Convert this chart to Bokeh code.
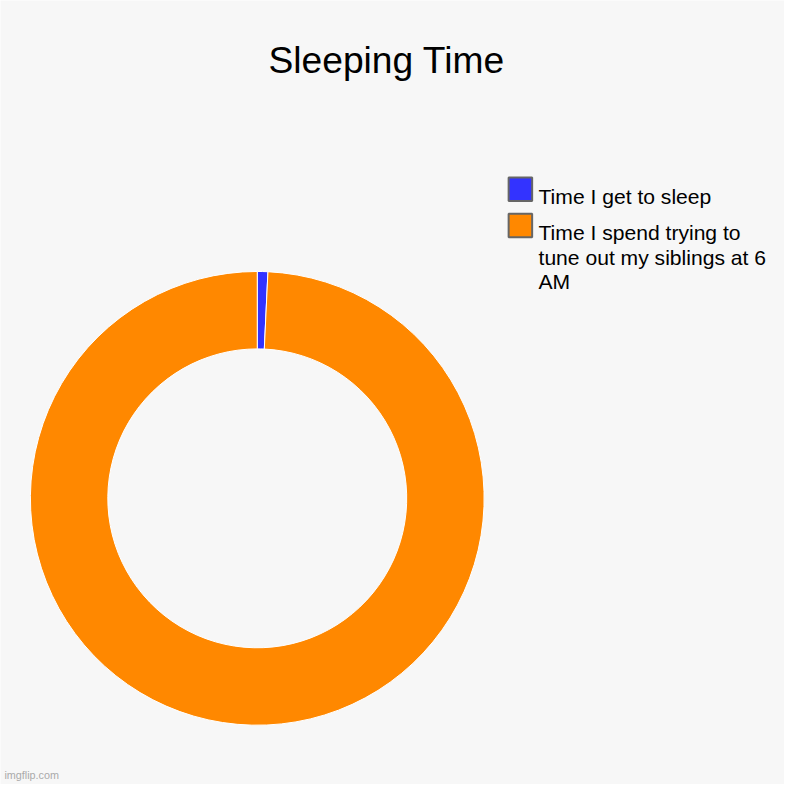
import math
import textwrap
from bokeh.plotting import figure
from bokeh.models import Range1d, ColumnDataSource
from bokeh.core.properties import value
from bokeh.embed import file_html
from bokeh.resources import INLINE

title = "Sleeping Time"
categories = ["Time I get to sleep", "Time I spend trying to tune out my siblings at 6 AM"]
values = [0.75, 99.25]
colors = ["#3333ff", "#ff8800"]
watermark = "imgflip.com"

W = H = 784
S = W / 800.0
BG = "#f7f7f7"
FONT = value("Liberation Sans")

p = figure(width=W, height=H, output_backend="svg", toolbar_location=None,
           x_range=Range1d(0, 800), y_range=Range1d(0, 800),
           min_border=0, outline_line_color=None)
p.axis.visible = False
p.grid.visible = False
p.background_fill_color = BG
p.border_fill_color = BG

def Y(page_y):
    return 800 - page_y

def fs(px):
    return "%.1fpx" % (px * S)

# donut
cx, cy = 262, Y(508)
total = sum(values)
starts, ends = [], []
cum = 0.0
for v in values:
    a0 = math.pi / 2 - (cum + v) / total * 2 * math.pi
    a1 = math.pi / 2 - cum / total * 2 * math.pi
    starts.append(a0)
    ends.append(a1)
    cum += v
src = ColumnDataSource(dict(x=[cx] * len(values), y=[cy] * len(values),
                            start=starts, end=ends, color=colors))
p.annular_wedge(x="x", y="y", inner_radius=152.5, outer_radius=231.5,
                start_angle="start", end_angle="end", fill_color="color",
                line_color="white", line_width=1, source=src)

# title
p.text(x=[394], y=[Y(61)], text=[title], text_font=FONT, text_font_size=fs(38),
       text_align="center", text_baseline="alphabetic", text_color="#000000")

# legend
lx0, lx1 = 518.5, 542.5
box_tops = [180.5, 217.5]
p.quad(left=[lx0] * 2, right=[lx1] * 2, top=[Y(t) for t in box_tops],
       bottom=[Y(t + 24) for t in box_tops], fill_color=colors,
       line_color="#666666", line_width=2)
tx, ty, tt = [], [], []
for i, lab in enumerate(categories):
    lines = textwrap.wrap(lab, 25)
    for j, ln in enumerate(lines):
        tx.append(549)
        ty.append(Y(box_tops[i] + 19.5 + j * 25))
        tt.append(ln)
p.text(x=tx, y=ty, text=tt, text_font=FONT, text_font_size=fs(21.5),
       text_align="left", text_baseline="alphabetic", text_color="#000000")

# watermark
p.text(x=[4], y=[Y(790)], text=[watermark], text_font=FONT, text_font_size=fs(11),
       text_align="left", text_baseline="alphabetic", text_color="#aaaaaa")

open("out.html", "w").write(file_html(p, INLINE))
